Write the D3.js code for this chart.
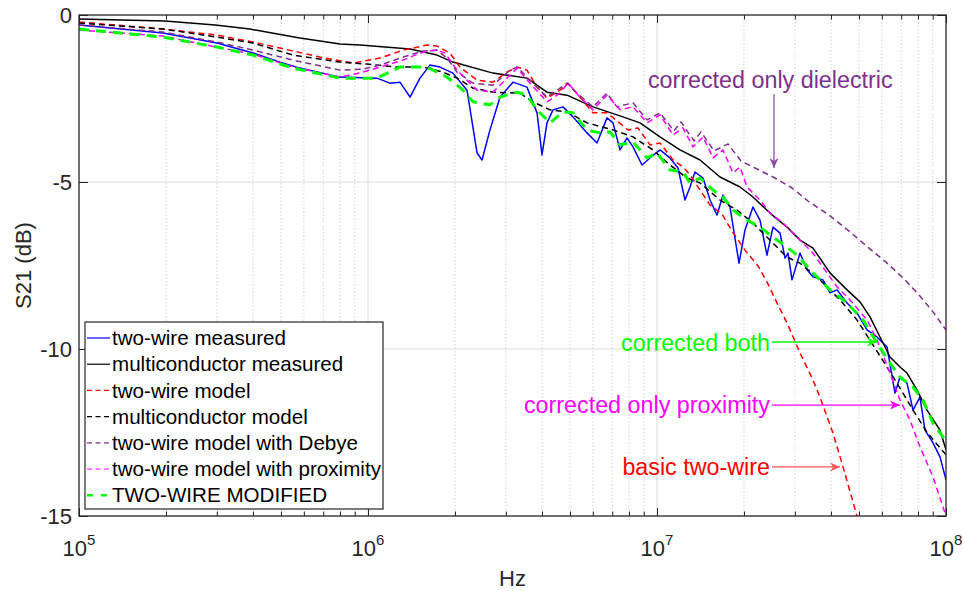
<!DOCTYPE html>
<html><head><meta charset="utf-8">
<script src="https://cdn.jsdelivr.net/npm/d3@7"></script>
<style>
body{margin:0;background:#fff;}
svg{display:block;font-family:"Liberation Sans",Arial,Helvetica,sans-serif;}
</style>
</head><body>
<svg id="chart" width="963" height="591"></svg>
<script>
// ---------------- DATA (frequency in MHz, S21 in dB) ----------------
const xMajorTicks = [1e5, 1e6, 1e7, 1e8];
const xTickExponents = ["5", "6", "7", "8"];
const yTicks = [0, -5, -10, -15];
const xLabel = "Hz";
const yLabel = "S21 (dB)";

const twoWireMeasured = [
  [0.1,-0.30],[0.195,-0.54],[0.30,-0.84],[0.40,-1.14],[0.496,-1.41],[0.581,-1.59],[0.80,-1.86],
  [1.074,-1.89],[1.191,-2.04],[1.29,-2.01],[1.398,-2.46],[1.513,-1.89],[1.638,-1.50],[1.775,-1.56],
  [1.968,-1.74],[2.201,-2.25],[2.384,-4.13],[2.481,-4.34],[2.643,-3.44],[2.862,-2.46],[3.175,-2.01],
  [3.549,-2.16],[3.845,-2.93],[4.0,-4.19],[4.163,-3.23],[4.367,-2.84],[4.728,-2.75],[5.12,-3.05],
  [5.726,-3.53],[6.2,-3.83],[6.714,-3.08],[7.043,-3.23],[7.447,-4.04],[7.874,-3.68],[8.26,-3.95],
  [8.875,-4.49],[9.459,-4.28],[10.24,-4.04],[11.09,-4.28],[11.82,-4.58],[12.5,-5.54],[13.01,-5.15],
  [13.53,-4.70],[14.43,-4.88],[15.26,-5.54],[16.13,-5.99],[16.92,-5.39],[17.89,-5.75],[19.22,-7.43],
  [20.16,-6.44],[21.48,-5.75],[22.72,-6.14],[24.02,-7.19],[25.2,-6.35],[26.65,-6.53],[27.73,-7.28],
  [28.4,-7.13],[29.32,-7.93],[31.25,-7.13],[33.04,-7.63],[34.66,-7.84],[37.53,-7.93],[39.69,-8.32],
  [41.97,-8.23],[45.45,-8.62],[49.21,-8.92],[53.29,-9.43],[57.71,-9.64],[62.5,-9.94],[66.61,-11.32],
  [69.32,-10.84],[73.3,-11.02],[76.89,-11.83],[81.28,-11.44],[84.59,-12.43],[90.16,-12.81],
  [95.32,-13.23],[100,-13.92]
];

const multiconductorMeasured = [
  [0.1,-0.12],[0.198,-0.18],[0.296,-0.30],[0.39,-0.42],[0.581,-0.69],[0.8,-0.87],[0.938,-0.90],
  [1.398,-1.02],[1.733,-1.20],[1.968,-1.41],[2.707,-1.74],[3.549,-1.89],[4.163,-2.31],[4.882,-2.40],
  [6.005,-2.75],[7.447,-3.02],[8.735,-3.23],[10.24,-3.65],[12.01,-4.04],[14.09,-4.34],[16.52,-4.85],
  [19.38,-5.15],[21.48,-5.45],[24.6,-5.93],[28.18,-6.35],[31.25,-6.74],[34.66,-6.98],[39.69,-7.72],
  [45.45,-8.23],[50.4,-8.59],[54.58,-9.04],[59.1,-9.64],[64.01,-10.24],[69.32,-10.54],[73.3,-10.72],
  [79.39,-11.23],[85.96,-11.83],[95.32,-12.43],[100,-13.02]
];

const twoWireModel = [
  [0.1,-0.21],[0.195,-0.42],[0.30,-0.60],[0.40,-0.81],[0.496,-0.99],[0.682,-1.26],[0.887,-1.44],
  [1.10,-1.29],[1.322,-1.05],[1.60,-0.90],[1.733,-0.93],[1.921,-1.14],[2.082,-1.56],[2.384,-1.95],
  [2.707,-2.01],[3.027,-1.71],[3.279,-1.56],[3.549,-1.65],[3.845,-2.16],[4.163,-2.49],[4.616,-2.25],
  [4.92,-2.04],[5.415,-2.46],[6.005,-2.93],[6.714,-2.93],[7.271,-3.17],[7.937,-3.44],[8.597,-3.38],
  [9.459,-3.89],[10.24,-3.83],[11.36,-4.34],[12.3,-4.55],[13.01,-4.79],[14.09,-5.24],[15.26,-5.69],
  [16.79,-5.96],[18.18,-6.47],[20.16,-7.04],[22.36,-7.51],[24.02,-7.99],[26.01,-8.62],[28.18,-9.22],
  [31.25,-10.12],[34.66,-10.93],[36.64,-11.44],[40.64,-12.52],[44.02,-13.53],[49.21,-15.0]
];

const multiconductorModel = [
  [0.1,-0.24],[0.195,-0.42],[0.30,-0.66],[0.40,-0.84],[0.55,-1.20],[0.80,-1.41],[0.992,-1.47],
  [1.26,-1.56],[1.55,-1.56],[1.818,-1.71],[2.032,-1.89],[2.309,-2.19],[2.707,-2.31],[3.357,-2.34],
  [3.724,-2.60],[4.264,-2.84],[4.882,-2.90],[5.726,-3.23],[7.043,-3.44],[8.26,-3.65],[9.687,-4.04],
  [11.09,-4.49],[12.7,-4.88],[14.09,-5.03],[16.52,-5.54],[18.92,-5.84],[21.48,-6.23],[24.6,-6.74],
  [28.18,-7.25],[31.25,-7.43],[36.64,-7.93],[42.98,-8.53],[49.21,-9.13],[55.9,-9.88],[62.5,-10.54],
  [69.32,-11.17],[76.89,-11.83],[85.96,-12.49],[95.32,-12.96],[100,-13.17]
];

const twoWireDebye = [
  [0.1,-0.30],[0.195,-0.51],[0.30,-0.81],[0.40,-1.05],[0.55,-1.35],[0.80,-1.65],[0.961,-1.62],
  [1.10,-1.50],[1.322,-1.26],[1.55,-1.08],[1.733,-1.05],[1.877,-1.29],[2.032,-1.71],[2.309,-2.04],
  [2.707,-2.10],[3.10,-1.65],[3.279,-1.56],[3.636,-1.95],[4.163,-2.46],[4.882,-2.04],[5.287,-2.34],
  [6.005,-2.75],[6.714,-2.34],[7.271,-2.75],[8.26,-2.63],[9.236,-3.14],[10.24,-2.93],[11.45,-3.47],
  [12.11,-3.20],[13.43,-3.77],[14.2,-3.50],[15.75,-4.07],[17.61,-3.86],[19.53,-4.37],[21.83,-4.58],
  [25.6,-4.88],[29.32,-5.18],[33.31,-5.57],[39.37,-5.99],[46.19,-6.47],[54.15,-6.98],[62.0,-7.40],
  [71.0,-7.87],[80.66,-8.38],[90.16,-8.89],[100,-9.43]
];

const twoWireProximity = [
  [0.1,-0.45],[0.195,-0.63],[0.30,-0.96],[0.40,-1.17],[0.55,-1.56],[0.80,-1.86],[0.961,-1.71],
  [1.10,-1.56],[1.322,-1.35],[1.55,-1.11],[1.733,-1.05],[1.847,-1.14],[2.032,-1.65],[2.384,-2.25],
  [2.707,-2.31],[3.027,-1.89],[3.279,-1.59],[3.636,-2.04],[4.163,-2.60],[4.616,-2.34],[4.92,-2.04],
  [5.415,-2.46],[6.005,-2.84],[6.714,-2.40],[7.447,-2.84],[8.26,-2.75],[9.236,-3.23],[10.24,-2.99],
  [11.36,-3.59],[12.3,-3.38],[13.32,-3.95],[14.43,-3.65],[15.63,-4.28],[16.92,-4.04],[18.32,-4.73],
  [19.38,-4.55],[20.48,-5.15],[22.72,-5.54],[24.6,-5.93],[27.29,-6.23],[30.51,-6.65],[34.66,-7.13],
  [38.75,-7.72],[41.97,-8.14],[46.55,-8.53],[53.29,-9.13],[57.71,-9.73],[64.01,-10.72],[69.32,-11.53],
  [75.07,-12.13],[81.28,-12.93],[90.16,-13.83],[100,-15.0]
];

const twoWireModified = [
  [0.1,-0.42],[0.195,-0.66],[0.30,-0.96],[0.40,-1.20],[0.55,-1.59],[0.80,-1.89],[1.074,-1.89],
  [1.29,-1.56],[1.60,-1.56],[1.877,-1.86],[2.132,-2.25],[2.309,-2.60],[2.643,-2.69],[2.862,-2.46],
  [3.279,-2.31],[3.549,-2.40],[3.845,-2.84],[4.264,-3.23],[4.728,-2.90],[5.12,-2.93],[5.726,-3.44],
  [6.35,-3.53],[6.876,-3.50],[7.447,-3.89],[8.26,-3.80],[9.236,-4.28],[10.0,-4.13],[11.09,-4.64],
  [12.3,-4.70],[13.01,-5.03],[14.09,-4.88],[15.63,-5.24],[16.92,-5.45],[18.32,-5.84],[20.48,-6.14],
  [22.72,-6.35],[25.2,-6.65],[28.18,-6.95],[30.51,-7.19],[34.66,-7.72],[39.69,-8.23],[45.45,-8.62],
  [51.62,-9.13],[57.71,-9.82],[64.01,-10.42],[69.32,-10.84],[76.89,-11.14],[83.25,-11.53],
  [90.16,-12.22],[97.63,-12.63],[100,-12.87]
];

const seriesNames = ["two-wire measured","multiconductor measured","two-wire model","multiconductor model",
  "two-wire model with Debye","two-wire model with proximity","TWO-WIRE MODIFIED"];
const seriesData = [twoWireMeasured, multiconductorMeasured, twoWireModel, multiconductorModel,
  twoWireDebye, twoWireProximity, twoWireModified];

// annotations (positions in data units: MHz, dB)
const annotationTexts = ["corrected only dielectric","corrected both","corrected only proximity","basic two-wire"];
const annotationTextPos = [[9.3,-2.19],[24.6,-10.06],[24.6,-11.92],[24.6,-13.77]];
const annotationArrowFrom = [[25.4,-2.37],[25.0,-9.79],[25.0,-11.68],[25.0,-13.53]];
const annotationArrowTo = [[25.4,-4.58],[57.7,-9.79],[69.3,-11.68],[43.0,-13.53]];

// ---------------- STYLES ----------------
const styles = [
  {color:"#0000ff", width:1.5, dash:null, legendDash:null},
  {color:"#000000", width:1.5, dash:null, legendDash:null},
  {color:"#ff0000", width:1.5, dash:"6,4", legendDash:"5,3.5"},
  {color:"#000000", width:1.5, dash:"6,4", legendDash:"5,3.5"},
  {color:"#7e2f8e", width:1.5, dash:"6,4", legendDash:"5,3.5"},
  {color:"#ff00ff", width:1.5, dash:"6,4", legendDash:"5,3.5"},
  {color:"#00ff00", width:3, dash:"10,7", legendDash:"6,8"}
];
const annColors = ["#7e2f8e","#00ff00","#ff00ff","#ff0000"];
const annLineColors = ["#8e4f9e","#00ff00","#ff00ff","#f25a5a"];

// ---------------- CHART ----------------
const svg = d3.select("#chart");
const L = 79, R = 946, T = 15, B = 516;
const x = d3.scaleLog().domain([1e5, 1e8]).range([L, R]);
const y = d3.scaleLinear().domain([-15, 0]).range([B, T]);
const axisColor = "#262626";

const minorTicks = [];
for (let e = 5; e < 8; e++) for (let m = 2; m <= 9; m++) minorTicks.push(m * Math.pow(10, e));

// grid
const grid = svg.append("g");
grid.selectAll("line.minor").data(minorTicks).enter().append("line")
  .attr("x1", d => x(d)).attr("x2", d => x(d)).attr("y1", T).attr("y2", B)
  .attr("stroke", "#c8c8c8").attr("stroke-width", 0.8).attr("stroke-dasharray", "1.5,2");
grid.selectAll("line.major").data(xMajorTicks.slice(1, -1)).enter().append("line")
  .attr("x1", d => x(d)).attr("x2", d => x(d)).attr("y1", T).attr("y2", B)
  .attr("stroke", "#dcdcdc").attr("stroke-width", 1);
grid.selectAll("line.ymaj").data(yTicks.slice(1, -1)).enter().append("line")
  .attr("x1", L).attr("x2", R).attr("y1", d => y(d)).attr("y2", d => y(d))
  .attr("stroke", "#dcdcdc").attr("stroke-width", 1.2);

svg.append("defs").append("clipPath").attr("id", "clip")
  .append("rect").attr("x", L).attr("y", T).attr("width", R - L).attr("height", B - T);

const line = d3.line().x(d => x(d[0] * 1e6)).y(d => y(d[1]));
const lines = svg.append("g").attr("clip-path", "url(#clip)");
seriesData.forEach((data, i) => {
  const s = styles[i];
  lines.append("path").datum(data).attr("d", line)
    .attr("fill", "none").attr("stroke", s.color).attr("stroke-width", s.width)
    .attr("stroke-dasharray", s.dash).attr("stroke-linejoin", "round");
});

function styleAxis(g) {
  g.select(".domain").remove();
  g.selectAll(".tick line").attr("stroke", axisColor).attr("stroke-width", 1);
  g.selectAll("text").remove();
}
svg.append("g").attr("transform", `translate(0,${B})`).call(d3.axisBottom(x).tickValues(xMajorTicks).tickSize(-8).tickFormat("")).call(styleAxis);
svg.append("g").attr("transform", `translate(0,${B})`).call(d3.axisBottom(x).tickValues(minorTicks).tickSize(-4.5).tickFormat("")).call(styleAxis);
svg.append("g").attr("transform", `translate(0,${T})`).call(d3.axisTop(x).tickValues(xMajorTicks).tickSize(-8).tickFormat("")).call(styleAxis);
svg.append("g").attr("transform", `translate(0,${T})`).call(d3.axisTop(x).tickValues(minorTicks).tickSize(-4.5).tickFormat("")).call(styleAxis);
svg.append("g").attr("transform", `translate(${L},0)`).call(d3.axisLeft(y).tickValues(yTicks).tickSize(-9).tickFormat("")).call(styleAxis);
svg.append("g").attr("transform", `translate(${R},0)`).call(d3.axisRight(y).tickValues(yTicks).tickSize(-9).tickFormat("")).call(styleAxis);
svg.append("rect").attr("x", L).attr("y", T).attr("width", R - L).attr("height", B - T)
  .attr("fill", "none").attr("stroke", axisColor).attr("stroke-width", 1.3);

// tick labels
const yl = svg.append("g").attr("font-size", 22).attr("fill", axisColor).attr("text-anchor", "end");
yTicks.forEach(v => {
  yl.append("text").attr("x", L - 7).attr("y", y(v) + 8).text(v < 0 ? "-" + Math.abs(v) : String(v));
});
const xl = svg.append("g").attr("fill", axisColor).attr("text-anchor", "middle");
xMajorTicks.forEach((v, i) => {
  const t = xl.append("text").attr("x", x(v)).attr("y", B + 40).attr("font-size", 22);
  t.append("tspan").text("10");
  t.append("tspan").attr("dy", -11).attr("font-size", 15).text(xTickExponents[i]);
});
svg.append("text").attr("x", (L + R) / 2).attr("y", 586).attr("text-anchor", "middle")
  .attr("font-size", 22).attr("fill", axisColor).text(xLabel);
svg.append("text").attr("transform", `translate(31,${(T + B) / 2}) rotate(-90)`).attr("text-anchor", "middle")
  .attr("font-size", 22).attr("fill", axisColor).text(yLabel);

// annotations
function arrowHead(g, x1, y1, x2, y2, color) {
  const a = Math.atan2(y2 - y1, x2 - x1);
  const len = 10, w = 4.5, back = 7;
  const p = (dx, dy) => [x2 + dx * Math.cos(a) - dy * Math.sin(a), y2 + dx * Math.sin(a) + dy * Math.cos(a)];
  const pts = [p(0, 0), p(-len, -w), p(-back, 0), p(-len, w)];
  g.append("polygon").attr("points", pts.map(q => q.join(",")).join(" ")).attr("fill", color);
}
const ann = svg.append("g");
annotationTexts.forEach((txt, i) => {
  const tp = annotationTextPos[i];
  ann.append("text").attr("x", x(tp[0] * 1e6)).attr("y", y(tp[1]))
    .attr("text-anchor", i === 0 ? "start" : "end").attr("font-size", 23.3)
    .attr("fill", annColors[i]).text(txt);
  const f = annotationArrowFrom[i], t = annotationArrowTo[i];
  const x1 = x(f[0] * 1e6), y1 = y(f[1]), x2 = x(t[0] * 1e6), y2 = y(t[1]);
  ann.append("line").attr("x1", x1).attr("y1", y1).attr("x2", x2).attr("y2", y2)
    .attr("stroke", annLineColors[i]).attr("stroke-width", 1.3);
  arrowHead(ann, x1, y1, x2, y2, annLineColors[i]);
});

// legend
const lg = svg.append("g");
lg.append("rect").attr("x", 85).attr("y", 322).attr("width", 298).attr("height", 187)
  .attr("fill", "#fff").attr("stroke", axisColor).attr("stroke-width", 1.2);
seriesNames.forEach((name, i) => {
  const cy = 338 + i * 26.2;
  const s = styles[i];
  lg.append("line").attr("x1", 87).attr("x2", 110).attr("y1", cy).attr("y2", cy)
    .attr("stroke", s.color).attr("stroke-width", i === 6 ? 2.5 : 1.2).attr("stroke-dasharray", s.legendDash);
  lg.append("text").attr("x", 112).attr("y", cy).attr("dy", "0.35em").attr("font-size", 20.6)
    .attr("fill", "#000").text(name);
});
</script>
</body></html>
